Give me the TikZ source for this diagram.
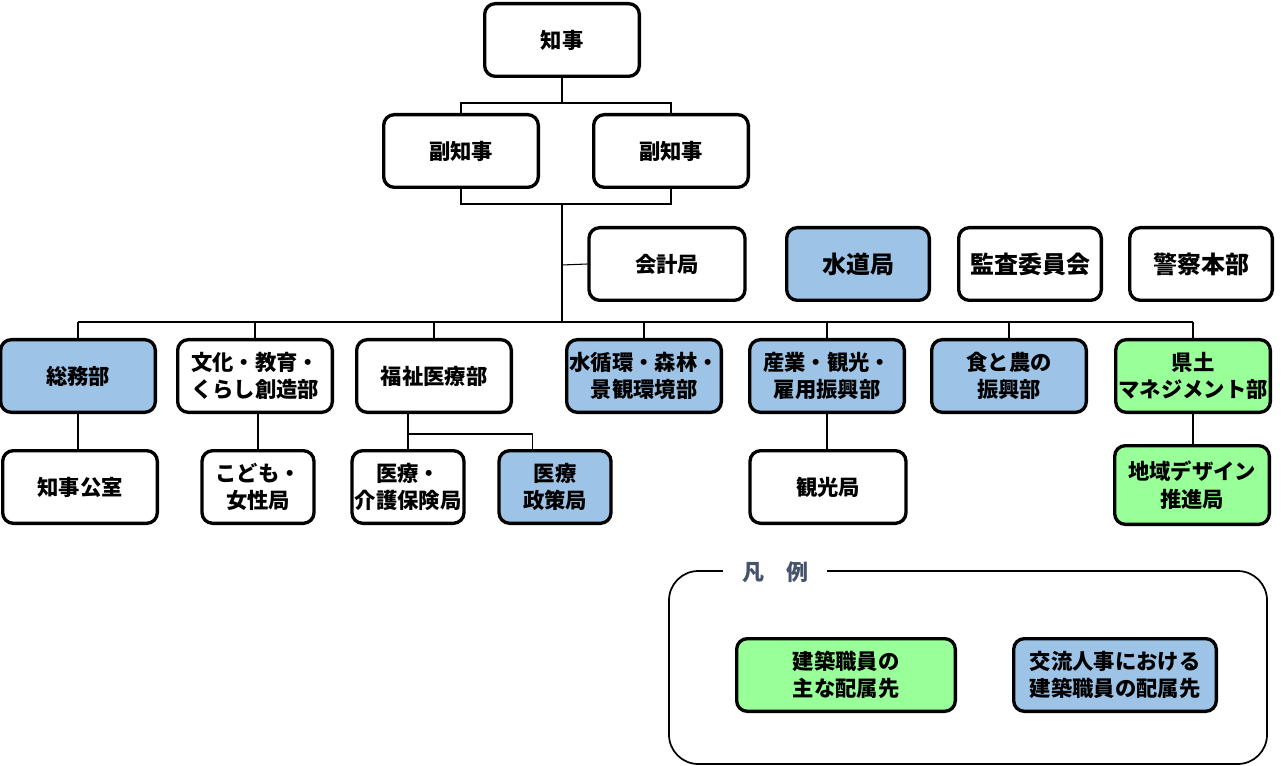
\documentclass[tikz,border=0pt]{standalone}
\usepackage{fontspec}
\setmainfont{Noto Sans CJK JP}
\usetikzlibrary{calc}
\definecolor{deptblue}{HTML}{9DC3E6}
\definecolor{deptgreen}{HTML}{99FF99}
\definecolor{legendgray}{HTML}{44546A}
\tikzset{
  unit/.style={draw, line width=2.5pt, rounded corners=8pt, fill=white,
    minimum width=116pt, minimum height=54.5pt, inner sep=0pt, align=center,
    font=\bfseries\fontsize{16}{20.5}\selectfont},
  unitblue/.style={unit, fill=deptblue},
  unitgreen/.style={unit, fill=deptgreen},
  bigtext/.style={font=\bfseries\fontsize{18}{22}\selectfont},
  link/.style={line width=0.8pt}
}

\begin{document}
\begin{tikzpicture}[x=0.75pt,y=-0.75pt]
    \useasboundingbox (0,0) rectangle (1288,766);

    % governor and vice governors
    \node[unit] (chiji) at (562,40) {知事};
    \node[unit] (fuku1) at (461,151) {副知事};
    \node[unit] (fuku2) at (671,151) {副知事};

    % independent bodies
    \node[unit, minimum width=117pt] (kaikei) at (667,264) {会計局};
    \node[unitblue, bigtext, minimum width=107pt] (suido) at (858,264) {水道局};
    \node[unit, bigtext, minimum width=107pt] (kansa) at (1030,264) {監査委員会};
    \node[unit, bigtext, minimum width=107pt] (keisatsu) at (1201,264) {警察本部};

    % departments
    \node[unitblue] (soumu) at (78,376) {総務部};
    \node[unit] (bunka) at (255,376) {文化・教育・\\くらし創造部};
    \node[unit] (fukushi) at (434,376) {福祉医療部};
    \node[unitblue] (junkan) at (644,376) {水循環・森林・\\景観環境部};
    \node[unitblue] (sangyo) at (827,376) {産業・観光・\\雇用振興部};
    \node[unitblue] (shoku) at (1009,376) {食と農の\\振興部};
    \node[unitgreen] (kendo) at (1193,376) {県土\\マネジメント部};

    % bureaus
    \node[unit] (koshitsu) at (80,487) {知事公室};
    \node[unit, minimum width=84pt] (kodomo) at (258,487) {こども・\\女性局};
    \node[unit, minimum width=84pt] (kaigo) at (408,487) {医療・\\介護保険局};
    \node[unitblue, minimum width=84pt] (seisaku) at (555,487) {医療\\政策局};
    \node[unit, minimum width=117pt] (kanko) at (828,487) {観光局};
    \node[unitgreen, minimum height=59pt] (chiiki) at (1192,485) {地域デザイン\\推進局};

    % lines from the top
    \coordinate (j1) at (562,103);
    \coordinate (j2) at (562,204);
    \coordinate (j3) at (562,265);
    \coordinate (bus) at (562,322);
    \draw[link] (chiji.south) -- (j1);
    \draw[link] (fuku1.north) |- (j1) -| (fuku2.north);
    \draw[link] (fuku1.south) |- (j2) -| (fuku2.south);
    \draw[link] (j2) -- (bus);
    \draw[link] (j3) -- (kaikei.west);

    % department bus
    \draw[link] (soumu.north |- bus) -- (kendo.north |- bus);
    \foreach \n in {soumu,bunka,fukushi,junkan,sangyo,shoku,kendo}
        \draw[link] (\n.north) -- (\n.north |- bus);

    % bureau lines
    \coordinate (fkj) at (408,434);
    \draw[link] (soumu.south) -- (soumu.south |- koshitsu.north);
    \draw[link] (kodomo.north) -- (kodomo.north |- bunka.south);
    \draw[link] (kaigo.north) -- (kaigo.north |- fukushi.south);
    \draw[link] (fkj) -| ([xshift=-17pt]seisaku.north);
    \draw[link] (sangyo.south) -- (sangyo.south |- kanko.north);
    \draw[link] (kendo.south) -- (kendo.south |- chiiki.north);

    % legend
    \draw[line width=1.3pt, rounded corners=22pt] (669,571) rectangle (1267,764);
    \node[fill=white, inner xsep=14pt, inner ysep=2pt, text=legendgray,
        font=\bfseries\fontsize{16.5}{20}\selectfont] (hanrei) at (775,572) {凡　例};
    \node[unitgreen, minimum width=164pt] (legmain) at (846,675) {建築職員の\\主な配属先};
    \node[unitblue, minimum width=152pt] (legkoryu) at (1115,675) {交流人事における\\建築職員の配属先};
\end{tikzpicture}
\end{document}
